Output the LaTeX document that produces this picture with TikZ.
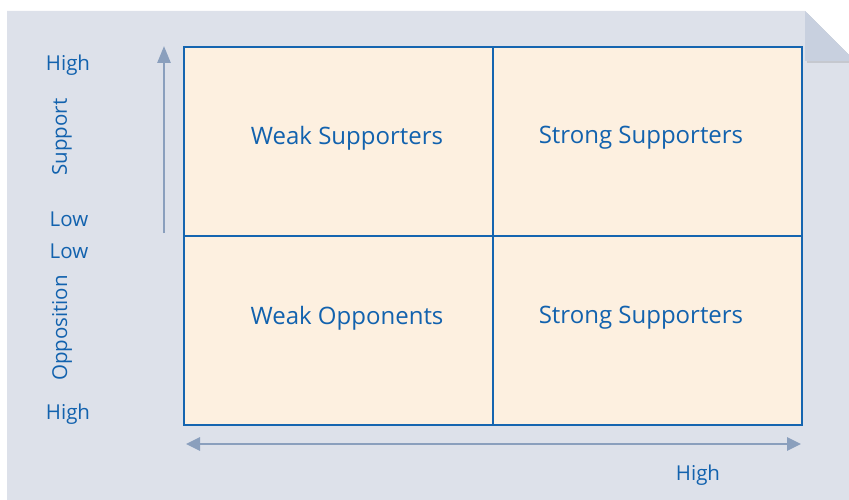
\documentclass[tikz,border=0pt]{standalone}
\usepackage{fontspec}
\setmainfont{Open Sans}
\usetikzlibrary{arrows.meta,shadows}
\definecolor{bgcol}{HTML}{DDE1EA}
\definecolor{foldcol}{HTML}{C8D0DF}
\definecolor{gridcol}{HTML}{1565B0}
\definecolor{cellcol}{HTML}{FDF0E0}
\definecolor{txtcol}{HTML}{1262AE}
\definecolor{axiscol}{HTML}{8A9FBD}
\tikzset{
  cell/.style={draw=gridcol, line width=2.8pt, fill=cellcol, minimum width=309pt, minimum height=189pt, inner sep=0pt},
  celltext/.style={text=txtcol, font=\fontsize{24}{28}\selectfont},
  axistext/.style={text=txtcol, font=\fontsize{20.5}{24}\selectfont},
  axis/.style={draw=axiscol, line width=2.6pt, -{Triangle[length=17pt,width=13pt]}},
}
\begin{document}
\begin{tikzpicture}[x=1pt,y=-1pt]
\useasboundingbox (0,0) rectangle (849,500);
\fill[bgcol] (7,11) -- (805,11) -- (849,55) -- (849,500) -- (7,500) -- cycle;
\fill[foldcol, drop shadow={shadow xshift=2pt, shadow yshift=-2pt, opacity=.25}] (805,11) -- (849,55) -- (849,61) -- (805,61) -- cycle;
\node[cell] (c11) at (338.5,141.5){};
\node[cell] (c12) at (647.5,141.5){};
\node[cell] (c21) at (338.5,330.5){};
\node[cell] (c22) at (647.5,330.5){};
\node[celltext] (t11) at (347,138){Weak Supporters};
\node[celltext] (t12) at (641,138){Strong Supporters};
\node[celltext] (t21) at (347,318){Weak Opponents};
\node[celltext] (t22) at (641,318){Strong Supporters};
\coordinate (vlow) at (164,233);
\coordinate (vhigh) at (164,46);
\draw[axis](vlow) -- (vhigh);
\coordinate (hleft) at (186,444);
\coordinate (hright) at (801,444);
\draw[axis, {Triangle[length=14pt,width=13pt]}-{Triangle[length=14pt,width=13pt]}](hleft) -- (hright);
\node[axistext] (shigh) at (68,65){High};
\node[axistext, rotate=90] (slab) at (62,137){Support};
\node[axistext] (slow) at (69,219){Low};
\node[axistext] (olow) at (69,251){Low};
\node[axistext, rotate=90] (olab) at (62,328){Opposition};
\node[axistext] (ohigh) at (68,414){High};
\node[axistext] (xhigh) at (698,475){High};
\end{tikzpicture}
\end{document}
